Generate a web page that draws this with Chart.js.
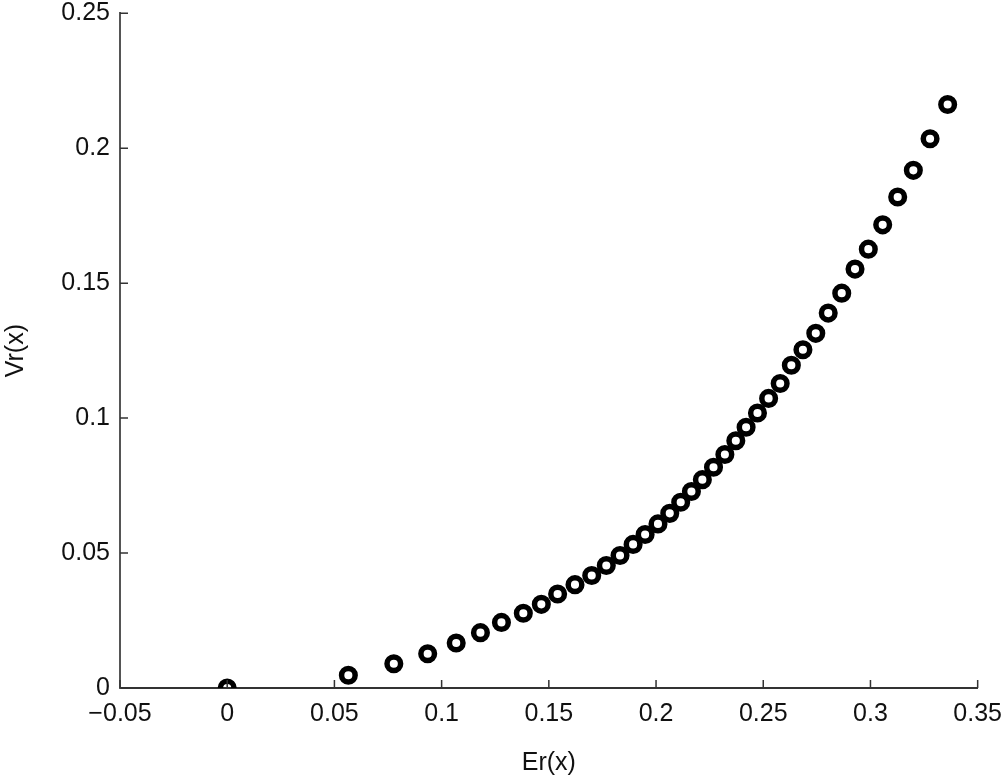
<!DOCTYPE html>
<html>
<head>
<meta charset="utf-8">
<script src="https://cdn.jsdelivr.net/npm/chart.js@4.4.1/dist/chart.umd.min.js"></script>
<style>
  html, body { margin: 0; padding: 0; background: #fff; }
  #wrap { width: 1005px; height: 779px; position: relative; }
</style>
</head>
<body>
<div id="wrap"><canvas id="chart"></canvas></div>
<script>
// values
const erValues = [
  0, 0.0565, 0.0777, 0.0935, 0.1068, 0.1181, 0.1279, 0.1381, 0.1465, 0.1541,
  0.1622, 0.1700, 0.1768, 0.1832, 0.1893, 0.1949, 0.2009, 0.2064, 0.2115, 0.2165,
  0.2216, 0.2268, 0.2321, 0.2372, 0.2420, 0.2473, 0.2525, 0.2579, 0.2631, 0.2685,
  0.2745, 0.2803, 0.2866, 0.2928, 0.2990, 0.3057, 0.3127, 0.3200, 0.3278, 0.3360
];
const vrValues = [
  0, 0.0047, 0.0090, 0.0127, 0.0167, 0.0205, 0.0243, 0.0277, 0.0310, 0.0348,
  0.0383, 0.0417, 0.0454, 0.0491, 0.0532, 0.0569, 0.0608, 0.0647, 0.0688, 0.0728,
  0.0772, 0.0818, 0.0865, 0.0916, 0.0966, 0.1019, 0.1073, 0.1128, 0.1196, 0.1253,
  0.1314, 0.1389, 0.1463, 0.1552, 0.1626, 0.1716, 0.1819, 0.1918, 0.2035, 0.2162
];
const xTickLabels = ['\u22120.05', '0', '0.05', '0.1', '0.15', '0.2', '0.25', '0.3', '0.35'];
const yTickLabels = ['0', '0.05', '0.1', '0.15', '0.2', '0.25'];

const fontFamily = "'Liberation Sans', Arial, Helvetica, sans-serif";
const textColor = '#111';
const fontSize = 25;

// matlab style ticks pointing into the plot
const inwardTicks = {
  id: 'inwardTicks',
  afterDraw(chart) {
    const ctx = chart.ctx;
    const xs = chart.scales.x;
    const ys = chart.scales.y;
    const area = chart.chartArea;
    ctx.save();
    ctx.lineWidth = 1.5;
    ctx.strokeStyle = '#333';
    ctx.beginPath();
    xs.ticks.forEach((t) => {
      let px = xs.getPixelForValue(t.value);
      ctx.moveTo(px, area.bottom);
      ctx.lineTo(px, area.bottom - 8);
    });
    ys.ticks.forEach((t) => {
      let py = ys.getPixelForValue(t.value);
      ctx.moveTo(area.left, py);
      ctx.lineTo(area.left + 8, py);
    });
    ctx.stroke();
    ctx.restore();
  }
};

const points = erValues.map((x, i) => ({ x: x, y: vrValues[i] }));

new Chart(document.getElementById('chart'), {
  type: 'scatter',
  data: {
    datasets: [{
      label: 'Vr(x)',
      data: points,
      pointStyle: 'circle',
      pointRadius: 6.8,
      pointBorderWidth: 5.5,
      pointBorderColor: '#000',
      pointBackgroundColor: 'rgba(0,0,0,0)',
      pointHoverRadius: 6.8
    }]
  },
  options: {
    responsive: true,
    maintainAspectRatio: false,
    animation: false,
    layout: {
      padding: { left: 0, top: 0, right: 24, bottom: 0 }
    },
    plugins: {
      legend: { display: false },
      tooltip: { enabled: false }
    },
    scales: {
      x: {
        type: 'linear',
        min: -0.05,
        max: 0.35,
        afterFit: (s) => { s.height = 91; },
        afterBuildTicks: (s) => {
          s.ticks = xTickLabels.map((_, i) => ({ value: -0.05 + i * 0.05 }));
        },
        grid: { display: false },
        border: { display: true, color: '#333', width: 2 },
        ticks: {
          padding: 3,
          maxRotation: 0,
          autoSkip: false,
          color: textColor,
          font: { family: fontFamily, size: fontSize },
          callback: (v, i) => xTickLabels[i]
        },
        title: {
          display: true,
          text: 'Er(x)',
          color: textColor,
          font: { family: fontFamily, size: fontSize },
          padding: { top: 0, bottom: 1 }
        }
      },
      y: {
        type: 'linear',
        min: 0,
        max: 0.25,
        afterFit: (s) => { s.width = 120; },
        afterBuildTicks: (s) => {
          s.ticks = yTickLabels.map((_, i) => ({ value: i * 0.05 }));
        },
        grid: { display: false },
        border: { display: true, color: '#555', width: 2 },
        ticks: {
          padding: 2,
          autoSkip: false,
          color: textColor,
          font: { family: fontFamily, size: fontSize, lineHeight: 0.9 },
          callback: (v, i) => yTickLabels[i]
        },
        title: {
          display: true,
          text: 'Vr(x)',
          color: textColor,
          font: { family: fontFamily, size: fontSize },
          padding: { top: 1, bottom: 0 }
        }
      }
    }
  },
  plugins: [inwardTicks]
});
</script>
</body>
</html>
